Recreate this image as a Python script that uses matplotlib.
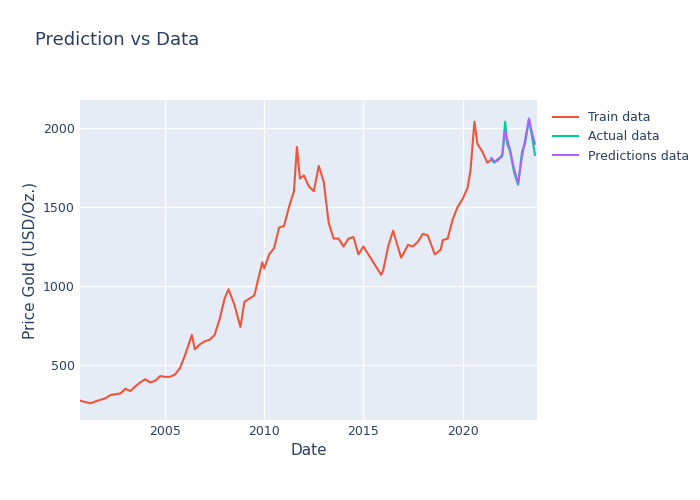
import matplotlib
matplotlib.use('Agg')
import matplotlib.pyplot as plt
import numpy as np

# values (approx., decimal years)
train_t = [2000.7, 2001.0, 2001.25, 2001.5, 2001.75, 2002.0, 2002.25, 2002.5, 2002.75,
           2003.0, 2003.25, 2003.5, 2003.75, 2004.0, 2004.25, 2004.5, 2004.75,
           2005.0, 2005.25, 2005.5, 2005.75, 2006.0, 2006.35, 2006.5, 2006.75,
           2007.0, 2007.25, 2007.5, 2007.75, 2008.0, 2008.2, 2008.5, 2008.8,
           2009.0, 2009.25, 2009.5, 2009.9, 2010.0, 2010.25, 2010.5, 2010.75,
           2011.0, 2011.25, 2011.5, 2011.65, 2011.8, 2012.0, 2012.25, 2012.5, 2012.75,
           2013.0, 2013.25, 2013.5, 2013.75, 2014.0, 2014.25, 2014.5, 2014.75,
           2015.0, 2015.25, 2015.5, 2015.9, 2016.0, 2016.25, 2016.5, 2016.9,
           2017.0, 2017.25, 2017.5, 2017.75, 2018.0, 2018.25, 2018.6, 2018.9,
           2019.0, 2019.25, 2019.5, 2019.75, 2020.0, 2020.25, 2020.4, 2020.6, 2020.75,
           2021.0, 2021.25, 2021.45]
train_y = [275, 265, 258, 270, 280, 290, 310, 315, 320,
           350, 335, 365, 390, 410, 390, 400, 430,
           425, 425, 440, 480, 560, 690, 600, 630,
           650, 660, 690, 790, 920, 980, 880, 740,
           900, 920, 940, 1150, 1110, 1200, 1240, 1370,
           1380, 1500, 1600, 1880, 1680, 1700, 1630, 1600, 1760,
           1660, 1400, 1300, 1300, 1250, 1300, 1310, 1200,
           1250, 1200, 1150, 1070, 1100, 1250, 1350, 1180,
           1200, 1260, 1250, 1280, 1330, 1320, 1200, 1230,
           1290, 1300, 1420, 1500, 1550, 1620, 1730, 2040, 1900,
           1850, 1780, 1800]
test_t = [2021.45, 2021.6, 2021.75, 2022.0, 2022.15, 2022.25, 2022.4, 2022.6,
          2022.8, 2023.0, 2023.15, 2023.35, 2023.5, 2023.65]
actual_y = [1800, 1780, 1800, 1820, 2040, 1900, 1850, 1720, 1640,
            1850, 1900, 2050, 1950, 1830]
pred_y = [1810, 1790, 1790, 1830, 1980, 1930, 1860, 1740, 1650,
          1820, 1920, 2060, 1970, 1900]

fig = plt.figure(figsize=(7, 5), dpi=100)
ax = fig.add_axes([0.114, 0.16, 0.653, 0.64])
ax.set_facecolor('#E5ECF6')
ax.grid(color='white', linewidth=1)
ax.set_axisbelow(True)
for s in ax.spines.values():
    s.set_visible(False)
ax.tick_params(length=0, labelsize=9, labelcolor='#2a3f5f')

ax.plot(train_t, train_y, color='#EF553B', lw=1.5, label='Train data')
ax.plot(test_t, actual_y, color='#00CC96', lw=1.5, label='Actual data')
ax.plot(test_t, pred_y, color='#AB63FA', lw=1.5, label='Predictions data')

ax.set_xlim(2000.7, 2023.75)
ax.set_ylim(152, 2177)
ax.set_xticks([2005, 2010, 2015, 2020])
ax.set_yticks([500, 1000, 1500, 2000])
ax.set_xlabel('Date', color='#2a3f5f', fontsize=11)
ax.set_ylabel('Price Gold (USD/Oz.)', color='#2a3f5f', fontsize=11)
fig.text(0.05, 0.91, 'Prediction vs Data', fontsize=13, color='#2a3f5f')
leg = ax.legend(loc='upper left', bbox_to_anchor=(1.01, 1.0), frameon=False, fontsize=9)
for t in leg.get_texts():
    t.set_color('#2a3f5f')

fig.savefig('out.png')
